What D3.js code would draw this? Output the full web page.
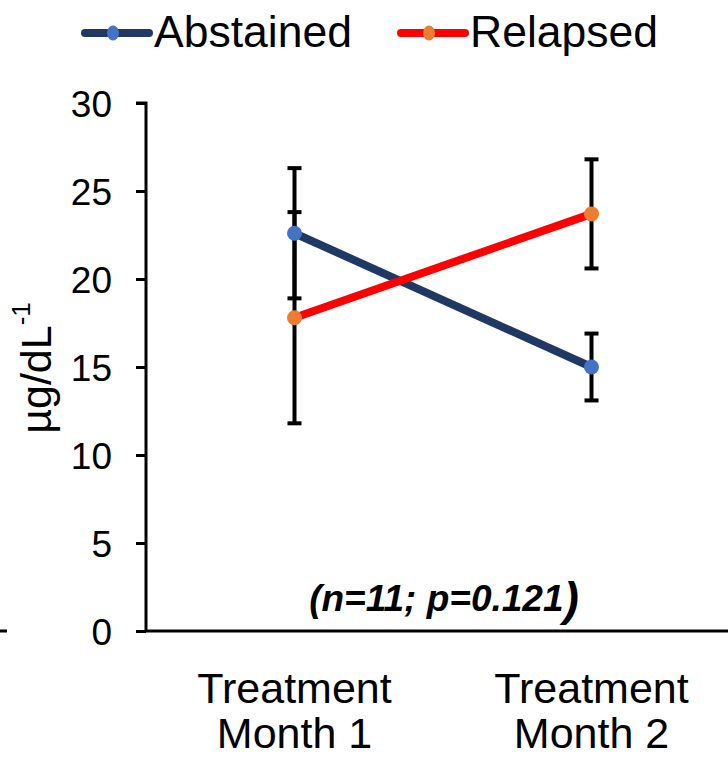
<!DOCTYPE html>
<html>
<head>
<meta charset="utf-8">
<script src="https://cdn.jsdelivr.net/npm/d3@7"></script>
<style>
  body { margin: 0; background: #fff; }
  svg { display: block; font-family: "Liberation Sans", Arial, sans-serif; }
</style>
</head>
<body>
<div class="chartContainer"></div>
<script>
var categories = [["Treatment", "Month 1"], ["Treatment", "Month 2"]];
var seriesNames = ["Abstained", "Relapsed"];
var abstained = [22.6, 15.0];
var abstainedErr = [3.7, 1.9];
var relapsed = [17.8, 23.7];
var relapsedErr = [6.0, 3.1];
var yTicks = [0, 5, 10, 15, 20, 25, 30];

var w = 728,
    h = 757;

var lineColors = ["#203864", "#ff0000"],
    markerColors = ["#4472c4", "#ed7d31"];

var series = [
    {name: seriesNames[0], values: abstained, err: abstainedErr},
    {name: seriesNames[1], values: relapsed, err: relapsedErr}
];

var svg = d3.select(".chartContainer")
    .append("svg")
    .attr("width", w)
    .attr("height", h);

var x = d3.scaleBand()
    .domain(d3.range(categories.length))
    .range([146, 740])
    .padding(0);

var y = d3.scaleLinear()
    .domain([0, 30])
    .range([631, 103]);

// y axis
var yAxis = svg.append("g")
    .attr("transform", "translate(146,0)")
    .call(d3.axisLeft(y).tickValues(yTicks).tickSize(10).tickPadding(24));
yAxis.select(".domain").attr("stroke", "#000").attr("stroke-width", 3)
    .attr("d", "M-10," + y(30) + "H0V" + y(0));
yAxis.selectAll(".tick line").attr("stroke", "#000").attr("stroke-width", 3);
yAxis.selectAll(".tick text")
    .attr("font-size", 37)
    .attr("font-family", "Liberation Sans, Arial, sans-serif")
    .attr("fill", "#000")
    .attr("dy", "0.36em");

// x axis line
svg.append("line")
    .attr("x1", 146).attr("x2", w)
    .attr("y1", y(0)).attr("y2", y(0))
    .attr("stroke", "#000").attr("stroke-width", 3);

// stray tick at far left
svg.append("line")
    .attr("x1", 0).attr("x2", 7)
    .attr("y1", y(0)).attr("y2", y(0))
    .attr("stroke", "#000").attr("stroke-width", 3);

// category labels
var catLabels = svg.selectAll(".cat")
    .data(categories)
    .enter().append("text")
    .attr("class", "cat")
    .attr("text-anchor", "middle")
    .attr("font-size", 43)
    .attr("fill", "#000");
catLabels.selectAll("tspan")
    .data(function (d, i) { return d.map(function (t) { return {t: t, i: i}; }); })
    .enter().append("tspan")
    .attr("x", function (d) { return x(d.i) + x.bandwidth() / 2; })
    .attr("y", function (d, j) { return 703 + j * 45; })
    .text(function (d) { return d.t; });

// y axis title
var yTitle = svg.append("text")
    .attr("transform", "translate(51,368) rotate(-90)")
    .attr("text-anchor", "middle")
    .attr("font-size", 43)
    .attr("fill", "#000");
yTitle.append("tspan").text("\u00b5g/dL");
yTitle.append("tspan").attr("font-size", 26).attr("dy", "-0.8em").text("-1");

// error bars
var cx = function (i) { return x(i) + x.bandwidth() / 2; };
series.forEach(function (s) {
    var g = svg.append("g");
    s.values.forEach(function (v, i) {
        var top = y(v + s.err[i]), bot = y(v - s.err[i]);
        g.append("line")
            .attr("x1", cx(i)).attr("x2", cx(i))
            .attr("y1", top).attr("y2", bot)
            .attr("stroke", "#000").attr("stroke-width", 4);
        [top, bot].forEach(function (yy) {
            g.append("line")
                .attr("x1", cx(i) - 7).attr("x2", cx(i) + 7)
                .attr("y1", yy).attr("y2", yy)
                .attr("stroke", "#000").attr("stroke-width", 4);
        });
    });
});

// lines and markers
var line = d3.line()
    .x(function (d, i) { return cx(i); })
    .y(function (d) { return y(d); });

series.forEach(function (s, k) {
    svg.append("path")
        .datum(s.values)
        .attr("d", line)
        .attr("fill", "none")
        .attr("stroke", lineColors[k])
        .attr("stroke-width", 8);
    svg.selectAll(".m" + k)
        .data(s.values)
        .enter().append("circle")
        .attr("class", "m" + k)
        .attr("cx", function (d, i) { return cx(i); })
        .attr("cy", function (d) { return y(d); })
        .attr("r", 7.5)
        .attr("fill", markerColors[k]);
});

// legend
var legendX = [82, 398];
series.forEach(function (s, k) {
    var g = svg.append("g").attr("transform", "translate(" + legendX[k] + ",33)");
    g.append("line")
        .attr("x1", 3).attr("x2", 67)
        .attr("stroke", lineColors[k]).attr("stroke-width", 8)
        .attr("stroke-linecap", "round");
    g.append("ellipse")
        .attr("cx", 31).attr("rx", 6).attr("ry", 7.5)
        .attr("fill", markerColors[k]);
    g.append("text")
        .attr("x", 72).attr("y", 14)
        .attr("font-size", 44.5)
        .attr("fill", "#000")
        .text(s.name);
});

// annotation
var note = svg.append("text")
    .attr("x", 444).attr("y", 611)
    .attr("text-anchor", "middle")
    .attr("font-weight", "bold")
    .attr("font-style", "italic")
    .attr("font-size", 37)
    .attr("fill", "#000");
note.append("tspan").text("(n=11; p=0.121");
note.append("tspan").attr("font-size", 46).attr("dy", "0.08em").text(")");
</script>
</body>
</html>
